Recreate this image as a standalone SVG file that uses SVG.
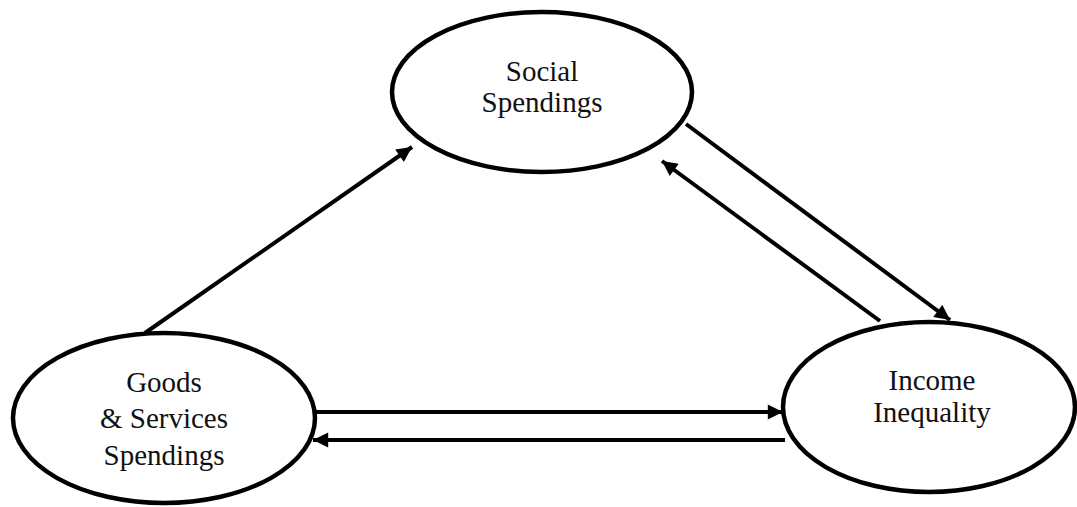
<svg xmlns="http://www.w3.org/2000/svg" width="1077" height="507" viewBox="0 0 1077 507">
<style>
.node ellipse{fill:#fff;stroke:#000;stroke-width:4.5}
.node text{font-family:"Liberation Serif","Times New Roman",serif;font-size:29px;fill:#111;text-anchor:middle}
.edges line{stroke:#000;stroke-width:4}
</style>
<defs>
<marker id="arr" viewBox="0 0 10 10" refX="10" refY="5" markerWidth="4.5" markerHeight="3.8" orient="auto" markerUnits="strokeWidth">
<path d="M0,0 L10,5 L0,10 z" fill="#000"/>
</marker>
</defs>
<rect width="1077" height="507" fill="#fff"/>
<g class="edges">
<line x1="145" y1="333" x2="412" y2="147" marker-end="url(#arr)"/>
<line x1="686" y1="124" x2="950" y2="320" marker-end="url(#arr)"/>
<line x1="880" y1="321" x2="662" y2="161" marker-end="url(#arr)"/>
<line x1="312" y1="412" x2="783" y2="412" marker-end="url(#arr)"/>
<line x1="785" y1="440" x2="313" y2="440" marker-end="url(#arr)"/>
</g>
<g id="social" class="node">
<ellipse cx="542" cy="92" rx="150" ry="80"/>
<text x="542" y="81">Social</text>
<text x="542" y="112">Spendings</text>
</g>
<g id="goods" class="node">
<ellipse cx="164" cy="418" rx="151" ry="85"/>
<text x="164" y="392">Goods</text>
<text x="164" y="428">&amp; Services</text>
<text x="164" y="465">Spendings</text>
</g>
<g id="income" class="node">
<ellipse cx="929" cy="407" rx="146" ry="85"/>
<text x="932" y="390">Income</text>
<text x="932" y="422">Inequality</text>
</g>
</svg>
